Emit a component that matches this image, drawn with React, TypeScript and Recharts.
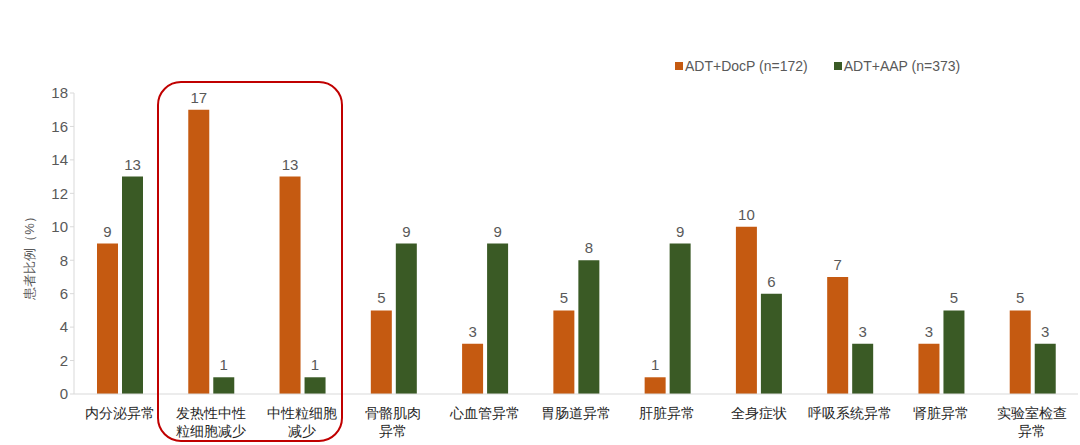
import React from 'react';
import { BarChart, Bar, XAxis, YAxis, LabelList } from 'recharts';

const categories = [
  '内分泌异常',
  '发热性中性\n粒细胞减少',
  '中性粒细胞\n减少',
  '骨骼肌肉\n异常',
  '心血管异常',
  '胃肠道异常',
  '肝脏异常',
  '全身症状',
  '呼吸系统异常',
  '肾脏异常',
  '实验室检查\n异常',
];
const docpValues = [9, 17, 13, 5, 3, 5, 1, 10, 7, 3, 5];
const aapValues = [13, 1, 1, 9, 9, 8, 9, 6, 3, 5, 3];
const yTicks = [0, 2, 4, 6, 8, 10, 12, 14, 16, 18];
const seriesNames = ['ADT+DocP (n=172)', 'ADT+AAP (n=373)'];

const ORANGE = '#C55A11';
const GREEN = '#3A5A25';
const FONT = '"Liberation Sans", Arial, sans-serif';

const data = categories.map((name, i) => ({ name, docp: docpValues[i], aap: aapValues[i] }));

const CategoryTick = (props: any) => {
  const { x, y, payload } = props;
  const lines = String(payload.value).split('\n');
  return (
    <g transform={`translate(${x},${y})`}>
      {lines.map((line, i) => (
        <text key={i} x={0} y={16 + i * 18} textAnchor="middle" fill="#262626" fontSize={14} fontFamily={FONT}>
          {line}
        </text>
      ))}
    </g>
  );
};

const App: React.FC = () => {
  return (
    <div style={{ position: 'absolute', left: 0, top: 0, width: 1080, height: 445, background: '#fff', fontFamily: FONT }}>
      <BarChart
        width={1080}
        height={445}
        data={data}
        margin={{ top: 93, right: 2, left: 0, bottom: 0 }}
        barCategoryGap="24.5%"
        barGap={4}
      >
        <XAxis
          dataKey="name"
          interval={0}
          height={51}
          tick={<CategoryTick />}
          tickLine={false}
          axisLine={{ stroke: '#D9D9D9' }}
        />
        <YAxis
          width={74}
          domain={[0, 18]}
          ticks={yTicks}
          interval={0}
          axisLine={{ stroke: '#D9D9D9' }}
          tickLine={{ stroke: '#D9D9D9' }}
          tickSize={4}
          tick={{ fill: '#595959', fontSize: 15, fontFamily: FONT }}
        />
        <Bar dataKey="docp" name={seriesNames[0]} fill={ORANGE} barSize={21} isAnimationActive={false}>
          <LabelList dataKey="docp" position="top" offset={7} fill="#595959" fontSize={15} fontFamily={FONT} />
        </Bar>
        <Bar dataKey="aap" name={seriesNames[1]} fill={GREEN} barSize={21} isAnimationActive={false}>
          <LabelList dataKey="aap" position="top" offset={7} fill="#595959" fontSize={15} fontFamily={FONT} />
        </Bar>
      </BarChart>
      <div style={{ position: 'absolute', left: 675, top: 58, display: 'flex', fontSize: 14, color: '#595959', whiteSpace: 'nowrap' }}>
        {seriesNames.map((n, i) => (
          <div key={n} style={{ display: 'flex', alignItems: 'center', marginRight: 26 }}>
            <span style={{ display: 'inline-block', width: 8, height: 8, background: i === 0 ? ORANGE : GREEN, marginRight: 2 }} />
            {n}
          </div>
        ))}
      </div>
      <div
        style={{
          position: 'absolute',
          left: 30,
          top: 255,
          transform: 'translate(-50%, -50%) rotate(-90deg)',
          fontSize: 13,
          color: '#595959',
          whiteSpace: 'nowrap',
        }}
      >
        患者比例（%）
      </div>
      <div
        style={{
          position: 'absolute',
          left: 157,
          top: 81,
          width: 182,
          height: 357,
          border: '2px solid #C00000',
          borderRadius: 24,
          pointerEvents: 'none',
        }}
      />
    </div>
  );
};

export default App;
